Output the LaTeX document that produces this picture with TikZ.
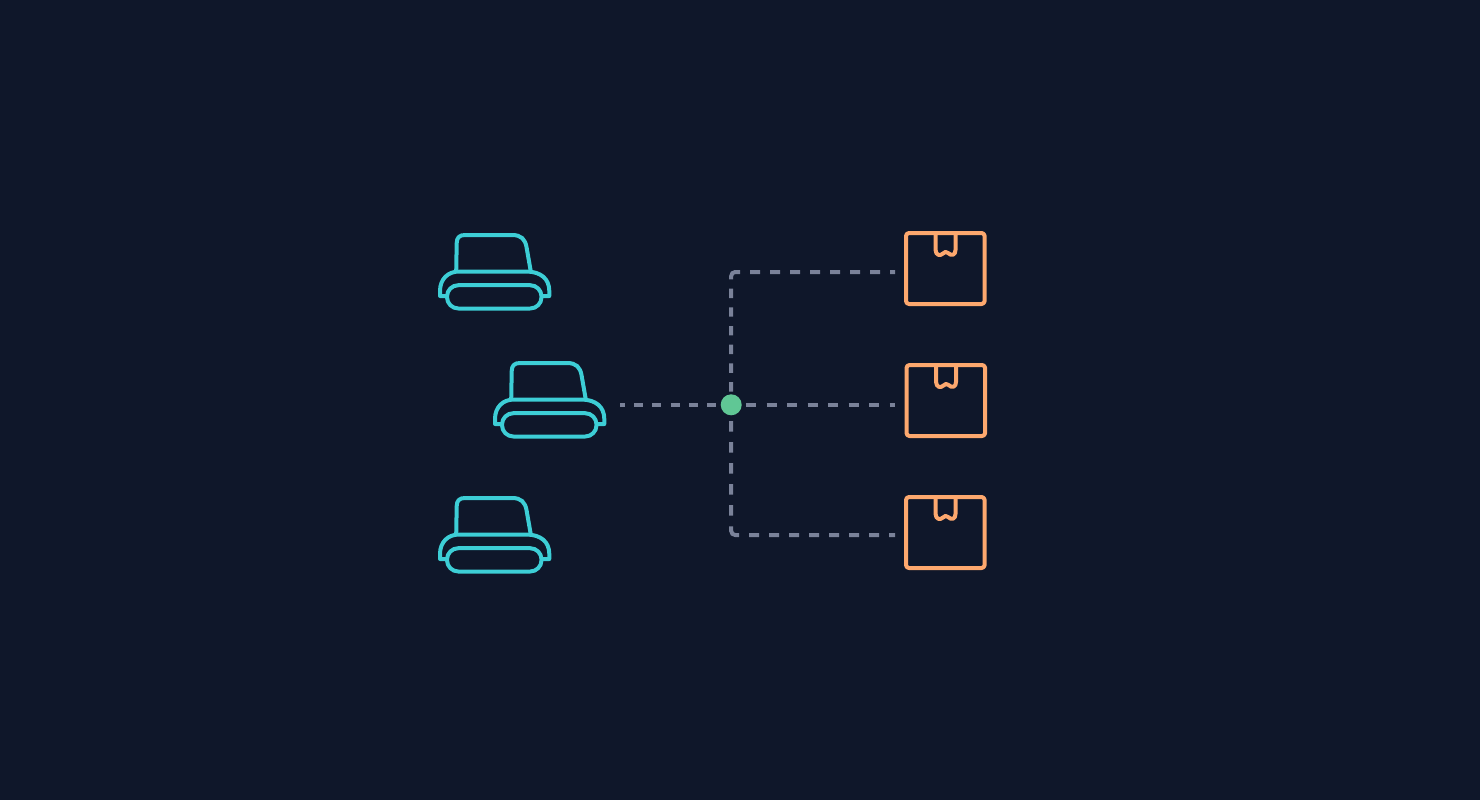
\documentclass[tikz,border=0pt]{standalone}
\definecolor{bgc}{HTML}{0F172A}
\definecolor{linkc}{HTML}{7A8299}
\definecolor{hubc}{HTML}{60C795}
\definecolor{printerc}{HTML}{3DCED6}
\definecolor{boxc}{HTML}{FDA86E}
\pgfdeclarelayer{lines}
\pgfsetlayers{lines,main}
\tikzset{
  x=1pt,y=-1pt,
  link/.style={draw=linkc,line width=4pt},
  iconline/.style={line width=4pt,line join=round},
  hubdot/.style={circle,fill=hubc,inner sep=0pt,minimum size=21pt},
  printer/.pic={
    \begin{scope}[iconline,draw=printerc]
      \draw (456.2,271.5) -- (456.7,243) .. controls (456.8,237.5) and (459.5,235) .. (465,235)
        -- (512,235) .. controls (521,235) and (525,239) .. (526.5,247) -- (530.8,271.5);
      \draw (446.7,296) -- (440,296) -- (440,291) .. controls (440,279) and (448,271.5) .. (459,271.5)
        -- (526,271.5) .. controls (541,271.5) and (549.3,279) .. (549.3,291) -- (549.3,296) -- (541.7,296);
      \draw[rounded corners=11.3pt] (447,285.2) rectangle (541.5,308.5);
    \end{scope}
  },
  parcel/.pic={
    \begin{scope}[iconline,draw=boxc]
      \draw[rounded corners=3pt] (906,233) rectangle (984.6,304);
      \draw (935.6,233) -- (935.6,250) .. controls (935.6,255) and (940,256.5) .. (943,253.5)
        .. controls (945,251.5) and (946,251.5) .. (948,253)
        .. controls (951.5,256.5) and (955.5,255) .. (955.5,250) -- (955.5,233);
    \end{scope}
  }
}
\begin{document}
\begin{tikzpicture}
  \useasboundingbox (0,0) rectangle (1480,800);
  \node[hubdot] (hub) at (731.2,404.8) {};
  \coordinate (srcend) at (620,404.8);
  \coordinate (topbend) at (731.2,272);
  \coordinate (topend) at (895,272);
  \coordinate (midend) at (895,404.8);
  \coordinate (botbend) at (731.2,535);
  \coordinate (botend) at (895,535);

  \begin{pgfonlayer}{lines}
    \fill[bgc] (0,0) rectangle (1480,800);
    \draw[link,dash pattern=on 9.17pt off 9.17pt,dash phase=4.47pt] (srcend) -- (hub.center);
    \draw[link,dash pattern=on 10.25pt off 10.25pt,dash phase=5.5pt] (hub.center) -- (midend);
    \draw[link,rounded corners=4pt,dash pattern=on 4.1pt off 9.2pt on 9.4pt off 9.3pt on 9.4pt off 9.3pt on 9.4pt off 9.3pt on 9.4pt off 9.3pt on 9.4pt off 9.3pt on 9.4pt off 9.3pt on 14.3pt off 10pt on 10pt off 10pt on 10pt off 10pt on 10pt off 10pt on 10pt off 10pt on 10pt off 10pt on 10pt off 10pt on 10pt off 10pt on 6pt off 10pt]
      (hub.center) -- (topbend) -- (topend);
    \draw[link,rounded corners=4pt,dash pattern=on 5.9pt off 10.3pt on 10.7pt off 10.3pt on 10.7pt off 10.3pt on 10.7pt off 10.3pt on 10.7pt off 10.3pt on 10.7pt off 10.7pt on 14.6pt off 10pt on 10pt off 10pt on 10pt off 10pt on 10pt off 10pt on 10pt off 10pt on 10pt off 10pt on 10pt off 10pt on 10pt off 10pt on 6pt off 10pt]
      (hub.center) -- (botbend) -- (botend);
  \end{pgfonlayer}

  \pic (printerA) at (0,0) {printer};
  \pic (printerB) at (55,128) {printer};
  \pic (printerC) at (0,263) {printer};
  \pic (parcelA) at (0,0) {parcel};
  \pic (parcelB) at (0.5,132) {parcel};
  \pic (parcelC) at (0,264) {parcel};
\end{tikzpicture}
\end{document}
